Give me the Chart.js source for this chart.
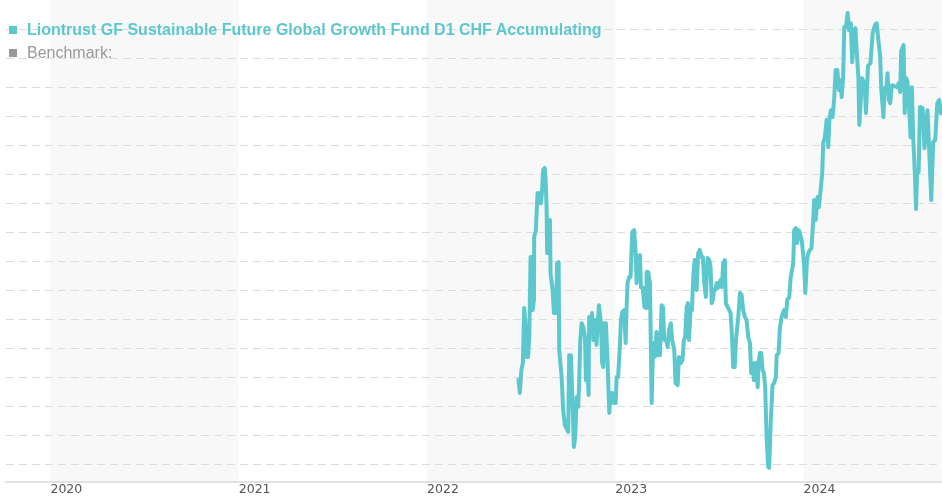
<!DOCTYPE html>
<html>
<head>
<meta charset="utf-8">
<script src="https://cdn.jsdelivr.net/npm/chart.js@4.4.1/dist/chart.umd.min.js"></script>
<style>
  html, body { margin: 0; padding: 0; background: #fff; }
  #wrap { position: relative; width: 942px; height: 500px; }
  #legend { position: absolute; left: 0; top: 0; font-family: "Liberation Sans", Arial, sans-serif; font-size: 16px; line-height: 18px; }
  .item { position: absolute; left: 9px; white-space: nowrap; }
  .box { display: inline-block; width: 8px; height: 8px; margin-right: 10px; vertical-align: 1px; }
</style>
</head>
<body>
<div id="wrap">
  <canvas id="chart" width="942" height="500"></canvas>
  <div id="legend"></div>
</div>
<script>
// fund series: x = fractional year, y = performance (gridline units)
const fundDates = [
  2022.485, 2022.493, 2022.501, 2022.509, 2022.516, 2022.525, 2022.529, 2022.534, 2022.537, 2022.543,
  2022.550, 2022.555, 2022.561, 2022.568, 2022.569, 2022.578, 2022.587, 2022.594, 2022.600, 2022.605,
  2022.610, 2022.617, 2022.625, 2022.630, 2022.635, 2022.638, 2022.646, 2022.653, 2022.656, 2022.667,
  2022.674, 2022.679, 2022.685, 2022.691, 2022.699, 2022.702, 2022.715, 2022.723, 2022.732, 2022.750,
  2022.755, 2022.764, 2022.773, 2022.780, 2022.787, 2022.795, 2022.803, 2022.808, 2022.814, 2022.821,
  2022.830, 2022.839, 2022.844, 2022.851, 2022.858, 2022.861, 2022.870, 2022.876, 2022.883, 2022.892,
  2022.900, 2022.913, 2022.924, 2022.930, 2022.936, 2022.941, 2022.950, 2022.959, 2022.968, 2022.975,
  2022.984, 2022.991, 2023.002, 2023.007, 2023.015, 2023.024, 2023.030, 2023.037, 2023.047, 2023.055,
  2023.060, 2023.065, 2023.074, 2023.081, 2023.090, 2023.100, 2023.108, 2023.113, 2023.122, 2023.131,
  2023.136, 2023.145, 2023.154, 2023.163, 2023.166, 2023.175, 2023.184, 2023.193, 2023.201, 2023.210,
  2023.219, 2023.228, 2023.237, 2023.246, 2023.253, 2023.260, 2023.270, 2023.278, 2023.285, 2023.295,
  2023.302, 2023.313, 2023.320, 2023.331, 2023.338, 2023.348, 2023.357, 2023.364, 2023.371, 2023.379,
  2023.386, 2023.391, 2023.400, 2023.407, 2023.414, 2023.421, 2023.428, 2023.432, 2023.440, 2023.449,
  2023.458, 2023.465, 2023.472, 2023.481, 2023.490, 2023.499, 2023.506, 2023.512, 2023.518, 2023.524,
  2023.531, 2023.538, 2023.545, 2023.552, 2023.559, 2023.566, 2023.573, 2023.582, 2023.587, 2023.596,
  2023.605, 2023.612, 2023.619, 2023.626, 2023.634, 2023.641, 2023.653, 2023.662, 2023.671, 2023.679,
  2023.688, 2023.697, 2023.706, 2023.715, 2023.722, 2023.729, 2023.736, 2023.747, 2023.756, 2023.761,
  2023.768, 2023.775, 2023.782, 2023.789, 2023.796, 2023.804, 2023.812, 2023.817, 2023.826, 2023.835,
  2023.844, 2023.853, 2023.857, 2023.867, 2023.874, 2023.883, 2023.896, 2023.906, 2023.913, 2023.924,
  2023.931, 2023.945, 2023.950, 2023.959, 2023.966, 2023.975, 2023.990, 2024.002, 2024.009, 2024.018,
  2024.025, 2024.034, 2024.042, 2024.051, 2024.056, 2024.064, 2024.074, 2024.081, 2024.092, 2024.099,
  2024.104, 2024.113, 2024.122, 2024.131, 2024.137, 2024.145, 2024.154, 2024.163, 2024.170, 2024.179,
  2024.188, 2024.195, 2024.202, 2024.210, 2024.216, 2024.225, 2024.234, 2024.241, 2024.251, 2024.258,
  2024.269, 2024.275, 2024.285, 2024.291, 2024.296, 2024.310, 2024.324, 2024.331, 2024.342, 2024.355,
  2024.367, 2024.379, 2024.388, 2024.397, 2024.407, 2024.412, 2024.424, 2024.430, 2024.439, 2024.446,
  2024.452, 2024.460, 2024.469, 2024.482, 2024.496, 2024.505, 2024.513, 2024.518, 2024.531, 2024.537,
  2024.545, 2024.552, 2024.561, 2024.568, 2024.575, 2024.582, 2024.590, 2024.597, 2024.603, 2024.611,
  2024.618, 2024.632, 2024.642, 2024.650, 2024.658, 2024.667, 2024.678, 2024.688, 2024.699, 2024.710,
  2024.720, 2024.732
];
const fundValues = [
  2.99, 2.48, 3.27, 3.51, 5.40, 4.64, 3.72, 4.40, 3.72, 4.40,
  7.16, 7.16, 5.33, 5.68, 7.84, 8.08, 9.36, 9.01, 9.36, 9.01,
  9.36, 10.15, 10.22, 9.80, 8.88, 7.29, 8.43, 8.43, 6.60, 6.02,
  5.23, 5.57, 5.23, 6.95, 6.98, 3.96, 3.03, 1.89, 1.38, 1.14,
  3.78, 3.78, 2.13, 0.62, 0.96, 2.34, 2.00, 2.82, 4.30, 4.88,
  4.75, 4.40, 2.92, 3.51, 2.41, 5.09, 4.88, 5.23, 4.30, 4.99,
  4.13, 5.50, 4.88, 3.51, 3.37, 4.88, 4.88, 3.51, 1.79, 2.48,
  2.48, 2.13, 2.13, 3.03, 3.03, 4.06, 4.99, 5.26, 5.33, 4.20,
  5.44, 6.26, 6.47, 6.47, 8.02, 8.08, 7.29, 6.26, 7.16, 7.22,
  6.12, 6.12, 5.44, 5.40, 6.64, 6.64, 6.26, 2.13, 4.20, 3.72,
  4.58, 3.78, 3.78, 5.50, 5.44, 4.30, 4.30, 4.06, 4.64, 4.88,
  4.30, 3.96, 2.82, 2.75, 3.72, 3.51, 3.61, 4.30, 4.40, 5.44,
  5.57, 4.30, 5.33, 5.33, 6.47, 7.05, 7.05, 6.02, 7.29, 7.40,
  7.16, 7.16, 6.26, 5.78, 7.12, 7.05, 6.81, 5.57, 5.68, 6.02,
  6.02, 6.26, 6.09, 6.26, 6.36, 6.12, 6.95, 7.05, 5.57, 5.44,
  5.33, 5.23, 4.54, 3.37, 3.37, 4.30, 5.09, 5.92, 5.85, 5.33,
  5.09, 4.99, 4.40, 4.20, 3.16, 3.51, 2.92, 3.51, 2.68, 3.51,
  3.85, 3.85, 3.27, 3.16, 2.68, 0.86, -0.07, -0.10, 1.55, 2.75,
  2.82, 3.03, 3.78, 3.85, 4.71, 5.09, 5.33, 5.09, 5.68, 5.78,
  6.43, 6.95, 8.08, 8.15, 7.64, 8.08, 7.74, 6.95, 5.92, 7.05,
  7.29, 7.40, 7.46, 8.43, 9.12, 8.43, 9.22, 8.88, 9.56, 10.04,
  11.08, 11.28, 11.87, 10.94, 11.87, 12.21, 11.97, 12.66, 13.59, 13.59,
  12.90, 13.24, 12.66, 13.35, 15.07, 15.07, 15.55, 14.96, 15.20, 13.86,
  14.96, 15.03, 13.93, 13.31, 11.70, 13.31, 13.11, 12.11, 13.73, 13.83,
  14.86, 15.14, 15.20, 14.62, 14.04, 12.97, 11.97, 12.97, 12.97, 13.48,
  12.56, 12.45, 13.07, 13.04, 13.00, 13.14, 12.83, 14.24, 14.45, 12.11,
  13.31, 13.18, 12.21, 11.28, 13.00, 11.28, 10.15, 8.81, 10.04, 10.08,
  12.32, 12.28, 10.90, 11.63, 12.21, 10.84, 9.12, 11.11, 11.18, 12.45,
  12.56, 12.04
];
const yearTicks = [2020, 2021, 2022, 2023, 2024];
const shadedYears = [2020, 2022, 2024];
const xRange = [2019.764, 2024.735];
const yRange = [-0.585, 16.0];

const fundName = "Liontrust GF Sustainable Future Global Growth Fund D1 CHF Accumulating";
const benchmarkName = "Benchmark:";
const fundColor = "#5cc8ce";
const benchmarkColor = "#999999";

// legend as plain html over the chart
const legend = document.getElementById("legend");
[[fundName, fundColor, 21, "bold"], [benchmarkName, benchmarkColor, 44, "normal"]].forEach(([txt, col, top, w]) => {
  const el = document.createElement("div");
  el.className = "item";
  el.style.top = top + "px";
  el.style.color = col;
  el.style.fontWeight = w;
  el.innerHTML = '<span class="box" style="background:' + col + '"></span>';
  el.appendChild(document.createTextNode(txt));
  legend.appendChild(el);
});

const yearBands = {
  id: "yearBands",
  beforeDraw(chart) {
    const { ctx, chartArea, scales: { x } } = chart;
    ctx.save();
    ctx.fillStyle = "#f8f8f8";
    shadedYears.forEach(y => {
      const x0 = Math.max(x.getPixelForValue(y), chartArea.left);
      const x1 = Math.min(x.getPixelForValue(y + 1), chartArea.right);
      ctx.fillRect(x0, 0, x1 - x0, chartArea.bottom);
    });
    ctx.restore();
  }
};

const ctx = document.getElementById("chart").getContext("2d");
new Chart(ctx, {
  type: "line",
  data: {
    datasets: [{
      label: fundName,
      data: fundDates.map((d, i) => ({ x: d, y: fundValues[i] })),
      borderColor: fundColor,
      borderWidth: 4,
      pointRadius: 0,
      tension: 0,
      borderJoinStyle: "round",
      fill: false
    }]
  },
  options: {
    responsive: false,
    animation: false,
    layout: { padding: { left: 6, right: 0, top: 0, bottom: 3 } },
    plugins: { legend: { display: false }, tooltip: { enabled: false } },
    scales: {
      x: {
        type: "linear",
        min: xRange[0],
        max: xRange[1],
        afterBuildTicks(scale) {
          scale.ticks = yearTicks.map(v => ({ value: v }));
        },
        ticks: {
          align: "start",
          padding: 0,
          color: "#555",
          font: { family: "DejaVu Sans", size: 12.5 },
          callback: v => String(v),
          maxRotation: 0
        },
        grid: { display: false, drawTicks: false },
        border: { display: true, color: "#e2e2e2", width: 2 }
      },
      y: {
        min: yRange[0],
        max: yRange[1],
        afterBuildTicks(scale) {
          const t = [];
          for (let v = 0; v <= 15; v++) t.push({ value: v });
          scale.ticks = t;
        },
        ticks: { display: false },
        grid: { color: "#dcdcdc", lineWidth: 1, drawTicks: false },
        border: { display: false, dash: [8, 5] }
      }
    }
  },
  plugins: [yearBands]
});
</script>
</body>
</html>
